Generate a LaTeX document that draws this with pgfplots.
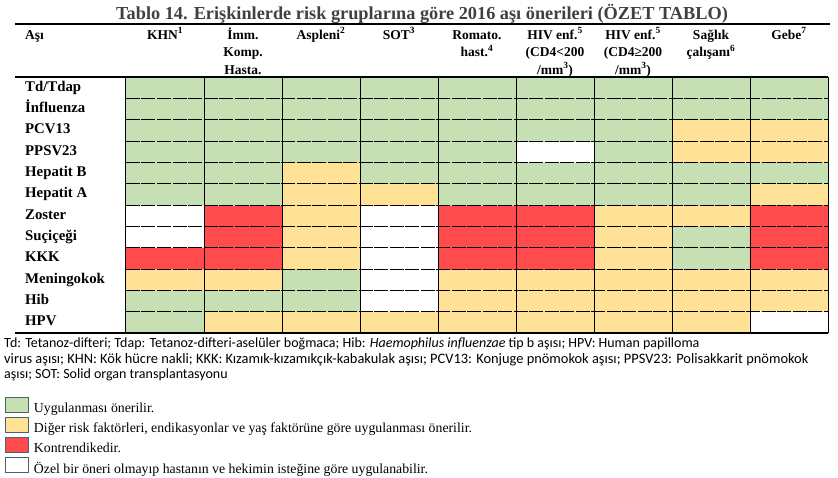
\documentclass[border=0pt]{standalone}
\usepackage{pgfplots}
\pgfplotsset{compat=1.18}
\usepackage{fontspec}
\setmainfont{Liberation Serif}
\newfontfamily\notefont{Carlito}

\definecolor{cgreen}{RGB}{198,224,180}
\definecolor{cyellow}{RGB}{255,226,150}
\definecolor{cred}{RGB}{255,75,75}
\definecolor{ctitle}{RGB}{64,64,64}
\definecolor{cbox}{RGB}{80,96,112}

% header cell: lines stacked, baseline on the first line
\newcommand{\hd}[1]{\begin{tabular}[t]{@{}c@{}}#1\end{tabular}}

\begin{document}
\begin{tikzpicture}[x=1pt,y=-1pt]
\path[use as bounding box] (0,0) rectangle (838,477);

\node[anchor=base, inner sep=0pt, text=ctitle, font=\fontsize{18.3}{21}\selectfont\bfseries]
  at (422,19) {Tablo 14. Erişkinlerde risk gruplarına göre 2016 aşı önerileri (ÖZET TABLO)};
\draw[line width=1.2pt] (15,24) -- (830,24);
\node[anchor=base west, inner sep=0pt, font=\fontsize{13.5}{17.5}\selectfont\bfseries] at (25,39) {Aşı};

\begin{axis}[
    at={(126pt,-333pt)}, anchor=south west,
    scale only axis, width=702pt, height=256pt,
    xmin=-0.5, xmax=8.5, ymin=-0.5, ymax=11.5,
    axis line style={draw=none},
    major tick length=0pt, minor tick length=0pt,
    xtick={0,...,8},
    xticklabel pos=upper,
    xticklabels={
      \hd{KHN\textsuperscript{1}},
      \hd{İmm.\\Komp.\\Hasta.},
      \hd{Aspleni\textsuperscript{2}},
      \hd{SOT\textsuperscript{3}},
      \hd{Romato.\\hast.\textsuperscript{4}},
      \hd{HIV enf.\textsuperscript{5}\\(CD4<200\\/mm\textsuperscript{3})},
      \hd{HIV enf.\textsuperscript{5}\\(CD4≥200\\/mm\textsuperscript{3})},
      \hd{Sağlık\\çalışanı\textsuperscript{6}},
      \hd{Gebe\textsuperscript{7}}},
    xticklabel style={anchor=base, inner sep=0pt, yshift=38pt,
      font=\fontsize{13.5}{17.5}\selectfont\bfseries},
    ytick={0,...,11},
    yticklabels={HPV,Hib,Meningokok,KKK,Suçiçeği,Zoster,Hepatit A,Hepatit B,PPSV23,PCV13,İnfluenza,Td/Tdap},
    yticklabel style={anchor=base west, inner sep=0pt, xshift=-101pt, yshift=-3.5pt,
      font=\fontsize{14.8}{16}\selectfont\bfseries},
    minor xtick={-0.5,0.5,...,8.5},
    minor ytick={0.5,1.5,...,10.5},
    xminorgrids=true, yminorgrids=true,
    xmajorgrids=false, ymajorgrids=false,
    x grid style={black, line width=1pt},
    y grid style={black, line width=1pt, dash pattern=on 14pt off 1.5pt},
    axis on top,
    colormap={cat}{rgb255=(198,224,180) rgb255=(255,226,150) rgb255=(255,75,75) rgb255=(255,255,255)},
    colormap access=direct,
    legend style={at={(-0.1724,-0.2500)}, anchor=north west, draw=none, fill=none,
      inner sep=0pt, column sep=5pt, row sep=1.3pt,
      font=\fontsize{13.8}{15}\selectfont,
      nodes={inner sep=0pt, text depth=3pt}},
    legend cell align=left,
  ]
  % 0 = önerilir, 1 = risk/endikasyon, 2 = kontrendike, 3 = özel öneri yok
  \addplot[matrix plot*, point meta=explicit, mesh/cols=9, forget plot] table[meta=c] {
x y c
0 0 0
1 0 1
2 0 1
3 0 1
4 0 1
5 0 1
6 0 1
7 0 1
8 0 3
0 1 0
1 1 0
2 1 0
3 1 3
4 1 1
5 1 1
6 1 1
7 1 1
8 1 1
0 2 1
1 2 1
2 2 0
3 2 3
4 2 1
5 2 1
6 2 1
7 2 1
8 2 1
0 3 2
1 3 2
2 3 1
3 3 3
4 3 2
5 3 2
6 3 1
7 3 0
8 3 2
0 4 3
1 4 2
2 4 1
3 4 3
4 4 2
5 4 2
6 4 1
7 4 0
8 4 2
0 5 3
1 5 2
2 5 1
3 5 3
4 5 2
5 5 2
6 5 1
7 5 1
8 5 2
0 6 0
1 6 0
2 6 1
3 6 1
4 6 0
5 6 0
6 6 0
7 6 0
8 6 1
0 7 0
1 7 0
2 7 1
3 7 0
4 7 0
5 7 0
6 7 0
7 7 0
8 7 0
0 8 0
1 8 0
2 8 0
3 8 0
4 8 0
5 8 3
6 8 0
7 8 1
8 8 1
0 9 0
1 9 0
2 9 0
3 9 0
4 9 0
5 9 0
6 9 0
7 9 1
8 9 1
0 10 0
1 10 0
2 10 0
3 10 0
4 10 0
5 10 0
6 10 0
7 10 0
8 10 0
0 11 0
1 11 0
2 11 0
3 11 0
4 11 0
5 11 0
6 11 0
7 11 0
8 11 0
  };
  \addlegendimage{legend image code/.code={\draw[draw=cbox, fill=cgreen, line width=0.8pt] (0pt,-3pt) rectangle (23pt,12pt);}}
  \addlegendentry{Uygulanması önerilir.}
  \addlegendimage{legend image code/.code={\draw[draw=cbox, fill=cyellow, line width=0.8pt] (0pt,-3pt) rectangle (23pt,12pt);}}
  \addlegendentry{Diğer risk faktörleri, endikasyonlar ve yaş faktörüne göre uygulanması önerilir.}
  \addlegendimage{legend image code/.code={\draw[draw=cbox, fill=cred, line width=0.8pt] (0pt,-3pt) rectangle (23pt,12pt);}}
  \addlegendentry{Kontrendikedir.}
  \addlegendimage{legend image code/.code={\draw[draw=cbox, fill=white, line width=0.8pt] (0pt,-3pt) rectangle (23pt,12pt);}}
  \addlegendentry{Özel bir öneri olmayıp hastanın ve hekimin isteğine göre uygulanabilir.}
\end{axis}

\draw[line width=1.2pt] (15,77) -- (828,77);
\draw[line width=1.2pt] (15,333) -- (828,333);

\begin{scope}[every node/.style={anchor=base west, inner sep=0pt, font=\notefont\fontsize{14}{16}\selectfont}]
\node at (4,347) {Td: Tetanoz-difteri; Tdap: Tetanoz-difteri-aselüler boğmaca; Hib: \textit{Haemophilus influenzae} tip b aşısı; HPV: Human papilloma};
\node[font=\notefont\fontsize{14.4}{16}\selectfont] at (4,363) {virus aşısı; KHN: Kök hücre nakli; KKK: Kızamık-kızamıkçık-kabakulak aşısı; PCV13: Konjuge pnömokok aşısı; PPSV23: Polisakkarit pnömokok};
\node at (4,378) {aşısı; SOT: Solid organ transplantasyonu};
\end{scope}
\end{tikzpicture}
\end{document}
